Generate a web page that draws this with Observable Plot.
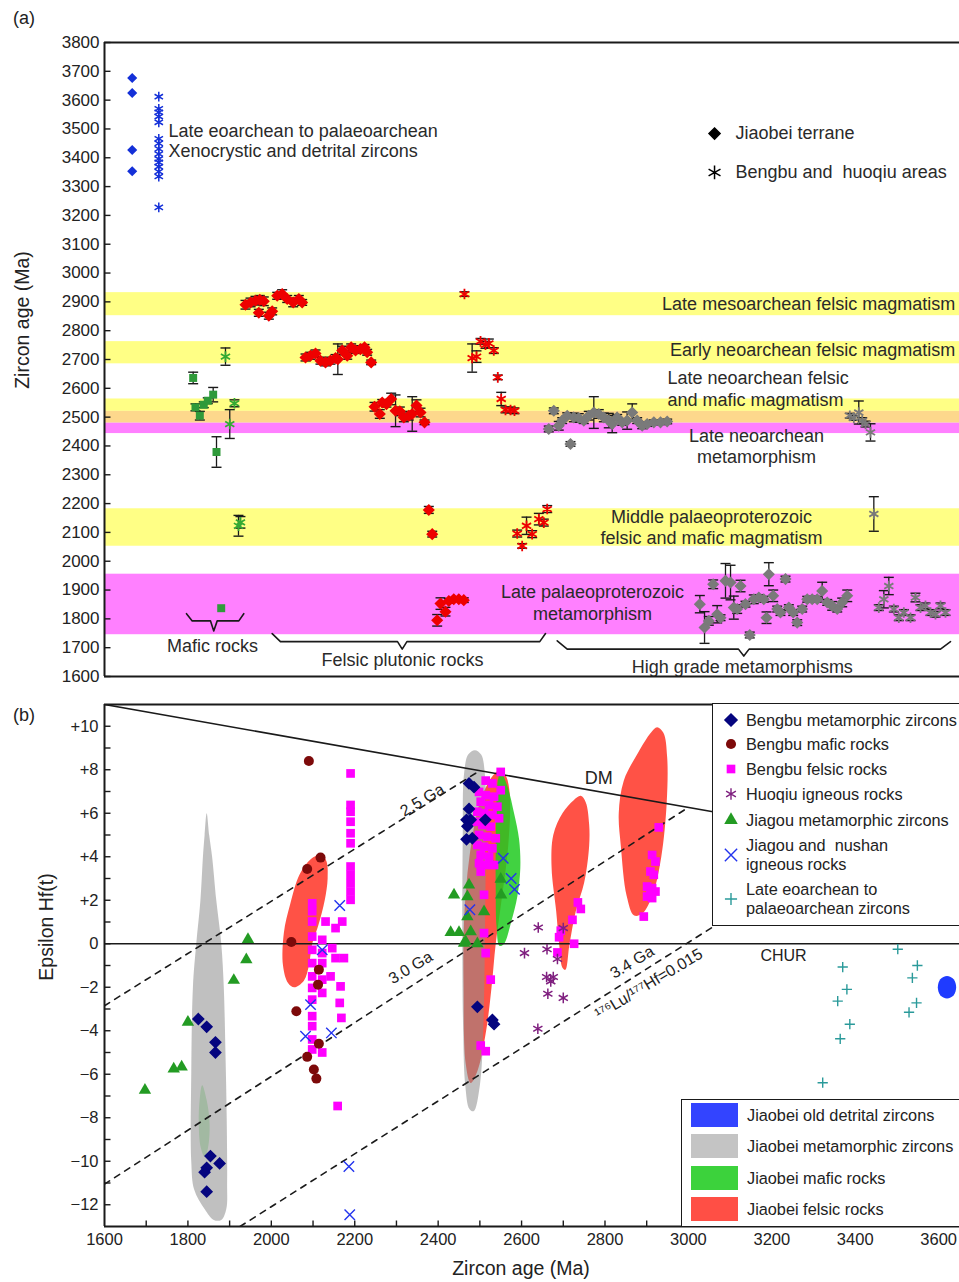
<!DOCTYPE html>
<html><head><meta charset="utf-8">
<script src="https://cdn.jsdelivr.net/npm/d3@7"></script>
<script src="https://cdn.jsdelivr.net/npm/@observablehq/plot@0.6"></script>
<style>
body{margin:0;background:#fff;}
#wrap{position:relative;width:959px;height:1282px;overflow:hidden;font-family:"Liberation Sans",Arial,sans-serif;color:#222;background:#fff;}
.abs{position:absolute;white-space:pre;line-height:1.15;}
svg{position:absolute;left:0;}
</style></head><body><div id="wrap"></div>
<script>
// ---------------- Panel (a) data: [sample position (0-100), age Ma, error Ma] ----------------
const ageTicks = [1600,1700,1800,1900,2000,2100,2200,2300,2400,2500,2600,2700,2800,2900,3000,3100,3200,3300,3400,3500,3600,3700,3800];
const xenoJiaobei = [[3.24,3677],[3.24,3625],[3.24,3427],[3.24,3353]];
const xenoBengbu = [[6.35,3612],[6.35,3570],[6.35,3558],[6.35,3543],[6.35,3523],[6.35,3466],[6.35,3450],[6.35,3431],[6.35,3413],[6.35,3396],[6.35,3384],[6.35,3369],[6.35,3352],[6.35,3335],[6.35,3228]];
const maficJiaobei = [[10.37,2636,20],[10.64,2534,12],[11.15,2505,15],[11.61,2543,10],[12.08,2557,10],[12.71,2578,25],[13.1,2379,53],[13.65,1837,0]];
const maficBengbu = [[14.15,2710,30],[14.65,2476,50],[15.2,2548,12],[15.67,2123,36],[15.9,2135,20]];
const felsicJiaobei = [
 [16.49,2890,15],[17.08,2898,15],[17.66,2904,15],[18.16,2907,15],[18.63,2902,15],[18.05,2862,12],[19.22,2852,12],[19.61,2867,12],[20.2,2921,12],[20.78,2927,15],[21.37,2910,12],[22.07,2898,15],[22.73,2910,12],[23.12,2898,10],
 [23.51,2707,12],[24.09,2713,12],[24.68,2721,12],[25.26,2696,12],[25.85,2690,12],[26.43,2696,12],[27.02,2705,12],[27.29,2701,53],[27.8,2731,15],[28.39,2713,12],[28.85,2742,12],[29.36,2731,10],[29.94,2736,12],[30.41,2742,10],[30.72,2725,10],[31.19,2690,8],
 [31.58,2536,15],[32.2,2511,15],[32.48,2551,10],[32.98,2545,10],[33.53,2563,20],[34.04,2522,55],[34.54,2520,15],[35.01,2499,15],[35.59,2505,15],[35.99,2511,60],[36.49,2540,20],[36.96,2516,15],[37.43,2482,8],
 [37.93,2178,12],[38.33,2094,10],
 [38.91,1795,20],[39.3,1853,20],[39.88,1825,15],[40.27,1862,8],[40.85,1868,6],[41.44,1868,6],[42.02,1865,8]];
const felsicBengbu = [[42.1,2927,8],[43.0,2705,49],[43.51,2710,20],[43.98,2763,10],[44.56,2751,12],[44.95,2756,15],[45.53,2731,10],[46.0,2638,8],[46.4,2563,23],[46.9,2525,10],[47.49,2525,10],[47.95,2522,10],
 [48.27,2096,12],[48.85,2053,8],[49.36,2123,30],[50.02,2094,12],[50.8,2146,20],[51.38,2134,12],[51.78,2181,12]];
const metaJiaobei = [
 [51.96,2459,10],[52.55,2522,10],[53.13,2470,15],[53.53,2488,10],[54.12,2505,10],[54.5,2407,8],[54.89,2499,15],[55.47,2497,15],[56.06,2488,10],[56.64,2505,15],[57.23,2516,55],[57.81,2511,15],[58.4,2499,15],[58.98,2488,25],[59.38,2476,30],[59.96,2499,10],[60.55,2482,10],[61.13,2488,30],[61.72,2516,30],[62.3,2488,10],[62.89,2470,10],[63.47,2476,8],[64.25,2482,8],[65.03,2482,8],[65.81,2485,8],
 [69.63,1851,30],[70.18,1770,55],[70.68,1793,15],[71.19,1920,15],[71.66,1816,30],[72.05,1804,10],[72.63,1932,60],[73.22,1926,60],[73.6,1839,40],[74.0,1834,15],[74.39,1914,20],[74.97,1851,10],[75.47,1744,10],[75.94,1868,15],[76.53,1874,10],[77.11,1868,10],[77.43,1804,20],[77.7,1955,40],[78.21,1880,20],[78.68,1834,10],[79.06,1822,10],[79.65,1938,10],[80.04,1839,10],[80.55,1822,10],[81.02,1787,10],[81.6,1834,10],[82.19,1868,10],[82.77,1868,10],[83.36,1868,10],[83.94,1897,30],[84.53,1857,10],[85.11,1845,15],[85.7,1834,10],[86.28,1857,15],[86.87,1880,20]];
const metaBengbu = [[87.17,2505,8],[87.64,2497,8],[88.22,2516,40],[88.62,2488,10],[89.01,2476,10],[89.59,2447,30],[89.98,2164,60],
 [90.56,1839,10],[91.15,1868,30],[91.73,1914,30],[92.32,1834,10],[92.9,1804,10],[93.49,1822,10],[94.27,1804,10],[94.85,1874,15],[95.44,1839,10],[96.02,1845,10],[96.61,1822,10],[97.19,1816,10],[97.78,1845,10],[98.36,1822,10]];
const yellowBands = [[2852,2932],[2685,2762],[2520,2563],[2052,2182]];
const orangeBands = [[2479,2520]];
const magentaBands = [[2443,2479],[1745,1955]];
const braceMafic = [[9.59,1818],[10.26,1793],[12.4,1793],[12.78,1758],[13.18,1793],[15.71,1793],[16.29,1818]];
const braceFelsic = [[19.61,1749],[20.58,1721],[34.27,1721],[34.82,1695],[35.37,1721],[50.91,1721],[51.58,1749]];
const braceHigh = [[52.95,1724],[54.12,1695],[74.15,1695],[74.77,1671],[75.39,1695],[97.78,1695],[98.95,1721]];

// ---------------- Panel (b) data: [age Ma, epsilon Hf(t)] ----------------
const ageTicksB = [1600,1800,2000,2200,2400,2600,2800,3000,3200,3400,3600];
const ageMinorB = [1700,1800,1900,2000,2100,2200,2300,2400,2500,2600,2700,2800,2900,3000,3100,3200,3300,3400,3500,3600];
const epsTicks = [-12,-10,-8,-6,-4,-2,0,2,4,6,8,10];
const epsMinor = [-12,-11,-10,-9,-8,-7,-6,-5,-4,-3,-2,-1,0,1,2,3,4,5,6,7,8,9,10];
const bengbuMeta = [[1825,-3.46],[1845,-3.82],[1866,-4.53],[1866,-5.0],[1854,-9.76],[1876,-10.1],[1845,-10.3],[1840,-10.5],[1845,-11.4],
 [2474,7.37],[2486,7.2],[2474,6.2],[2468,5.7],[2470,5.4],[2468,4.8],[2482,4.85],[2478,5.7],[2513,5.7],[2494,-2.9],[2530,-3.5],[2534,-3.7]];
const bengbuMafic = [[2090,8.4],[2086,3.44],[2118,3.96],[2048,0.08],[2114,-1.19],[2112,-1.88],[2060,-3.1],[2114,-4.6],[2086,-5.2],[2102,-5.78],[2108,-6.2]];
const bengbuFelsic = [
 [2190,7.83],[2190,6.38],[2190,6.07],[2190,5.61],[2190,5.08],[2190,4.62],[2190,3.55],[2190,3.17],[2190,2.78],[2190,2.4],[2190,2.02],
 [2098,1.86],[2098,1.5],[2098,1.02],[2098,0.33],[2098,-0.28],[2098,-0.89],[2098,-1.5],[2098,-2.03],[2098,-2.57],[2098,-3.33],[2098,-3.79],[2098,-4.4],[2098,-4.86],
 [2122,0.18],[2122,-0.43],[2122,-0.89],[2122,-1.65],[2122,-2.26],[2122,-5.0],
 [2130,1.02],[2154,0.72],[2170,1.02],[2146,-0.2],[2154,-0.66],[2174,-0.66],[2142,-1.5],[2166,-1.96],[2164,-2.72],[2168,-3.41],[2159,-7.46],
 [2550,7.9],[2514,7.5],[2530,7.37],[2550,7.06],[2498,6.98],[2514,6.83],[2534,6.76],[2502,6.53],[2522,6.38],[2542,6.3],[2494,6.07],[2510,6.0],[2530,5.92],[2546,5.77],[2490,5.61],[2506,5.46],[2526,5.38],[2498,5.0],[2518,4.92],[2538,4.85],[2494,4.54],[2510,4.46],[2530,4.39],[2502,4.08],[2522,4.0],[2498,3.7],[2514,3.62],[2534,3.62],[2502,3.32],[2510,2.25],[2510,0.49],[2514,-0.43],[2526,-1.65],[2502,-4.68],[2514,-4.94],
 [2686,-0.4],[2690,0.3],[2694,0.6],[2722,1.1],[2742,1.6],[2726,0.0],[2735,1.9],
 [2929,5.35],[2913,4.08],[2921,3.78],[2909,3.32],[2917,3.17],[2901,2.63],[2913,2.56],[2909,2.33],[2921,2.4],[2901,2.17],[2913,2.1],[2893,1.25]];
const huoqiu = [[2640,0.75],[2700,0.72],[2607,-0.43],[2661,-0.25],[2686,-0.7],[2660,-1.53],[2676,-1.53],[2670,-1.73],[2663,-2.3],[2700,-2.49],[2639,-3.91]];
const jiagouMeta = [[1944,0.2],[1940,-0.73],[1910,-1.68],[1800,-3.6],[1766,-5.75],[1785,-5.66],[1697,-6.73],
 [2438,2.25],[2474,2.7],[2470,2.17],[2510,1.48],[2470,1.25],[2526,3.7],[2550,2.97],[2551,2.25],[2430,0.52],[2450,0.52],[2478,0.56],[2462,0.03],[2494,0.0],[2466,0.1]];
const jiagouIgneous = [[2164,1.76],[2122,-0.28],[2094,-2.8],[2082,-4.25],[2144,-4.1],[2186,-10.24],[2188,-12.46],[2476,1.56],[2556,3.93],[2575,3.0],[2583,2.5]];
const lateEoarchean = [[3502,-0.25],[3370,-1.07],[3549,-1.0],[3537,-1.57],[3380,-2.1],[3358,-2.64],[3547,-2.72],[3387,-3.7],[3529,-3.15],[3364,-4.37],[3322,-6.39]];
// field outlines (age, epsilon)
const grayField1 = [[1845,6],[1851,5],[1858,4],[1868,2],[1880,0],[1886,-2],[1890,-5],[1893,-8],[1894,-11],[1892,-12.2],[1880,-12.7],[1862,-12.7],[1840,-12.2],[1815,-11.3],[1808,-10],[1808,-6],[1812,-2],[1820,0],[1830,2],[1836,4],[1840,5]];
const grayField2 = [[2488,8.9],[2503,8.7],[2512,7.8],[2514,5],[2512,0],[2508,-4],[2500,-6.5],[2485,-7.7],[2475,-7.6],[2465,-6.5],[2460,-4],[2458,0],[2459,5],[2462,7.8],[2472,8.7]];
const greenField1 = [[1834,-6.5],[1845,-7.2],[1852,-8.3],[1848,-9.4],[1840,-9.8],[1830,-9.3],[1826,-8.2],[1828,-7.2]];
const greenField2 = [[2550,7.9],[2565,7.3],[2582,6.0],[2594,4.8],[2597,3.5],[2590,2.2],[2575,1.0],[2558,0.0],[2547,-0.1],[2540,0.8],[2538,2.5],[2538,4.5],[2540,6.5],[2544,7.6]];
const redField1 = [[2120,4.1],[2132,3.8],[2135,3.0],[2128,2.0],[2112,0.8],[2098,0],[2090,-1],[2078,-1.7],[2055,-2.0],[2040,-1.8],[2028,-1.0],[2030,0.5],[2045,1.8],[2068,3.2],[2095,3.9]];
const redField2 = [[2550,8.0],[2563,7.7],[2572,6.8],[2568,4.5],[2552,2],[2538,0],[2528,-2],[2515,-4],[2495,-5.8],[2478,-6.4],[2466,-5.5],[2461,-2],[2462,1],[2475,4],[2500,6.5],[2530,7.7]];
const redField3 = [[2742,6.8],[2754,6.5],[2762,5.5],[2762,4.5],[2750,2.8],[2730,1.5],[2715,0],[2705,-1.2],[2698,-1.1],[2690,0],[2683,1.5],[2672,3.5],[2676,5],[2698,6],[2725,6.6]];
const redField4 = [[2925,9.95],[2940,9.7],[2949,8.6],[2948,6.5],[2935,4],[2915,2.3],[2890,1.4],[2870,1.3],[2852,2.2],[2838,4.5],[2833,6],[2845,7.5],[2880,8.8],[2910,9.7]];
const blueField = [[3620,-1.48],[3636,-1.63],[3642,-2.0],[3636,-2.37],[3620,-2.52],[3604,-2.37],[3598,-2.0],[3604,-1.63]];
const dmLine = [[1600,11.0],[3650,4.07]];
const evo25 = [[1600,-2.85],[2500,7.96]];
const evo30 = [[1600,-11.05],[3000,6.27]];
const evo34 = [[1925,-13.0],[3400,4.92]];

// ---------------- helpers ----------------
const FONT = '"Liberation Sans", Arial, Helvetica, sans-serif';
const INK = "#1a1a1a";
const capSym = {draw(c){c.moveTo(-5,0);c.lineTo(5,0);}};
const tickRight = {draw(c){c.moveTo(0,0);c.lineTo(6,0);}};
const tickUp = {draw(c){c.moveTo(0,0);c.lineTo(0,-6);}};
const X = d => d[0], Y = d => d[1];
function errBars(data){
  const e = data.filter(d => d[2] > 0);
  return [
    Plot.ruleX(e,{x:X,y1:d=>d[1]-d[2],y2:d=>d[1]+d[2],stroke:INK,strokeWidth:1.3}),
    Plot.dot(e,{x:X,y:d=>d[1]-d[2],symbol:capSym,stroke:INK,fill:"none",strokeWidth:1.4}),
    Plot.dot(e,{x:X,y:d=>d[1]+d[2],symbol:capSym,stroke:INK,fill:"none",strokeWidth:1.4})
  ];
}
function field(pts, fill, opacity){
  return Plot.line(pts,{x:X,y:Y,curve:"catmull-rom-closed",fill,fillOpacity:opacity,stroke:"none"});
}
const fmtEps = d => d > 0 ? "+" + d : d < 0 ? "\u2212" + Math.abs(d) : "0";

const wrap = d3.select("#wrap");
function htmlText(txt, x, y, size, anchor="middle", rotate=0){
  const tx = anchor === "middle" ? "-50%" : anchor === "end" ? "-100%" : "0";
  return wrap.append("div").attr("class","abs").text(txt)
    .style("left", x + "px").style("top", y + "px").style("font-size", size + "px")
    .style("transform", `translate(${tx},-50%) rotate(${rotate}deg)`);
}

// ---------------- Panel (a) ----------------
const plotA = Plot.plot({
  width: 959, height: 690, marginLeft: 104, marginRight: 0, marginTop: 42, marginBottom: 14,
  style: {fontFamily: FONT, fontSize: "17px", color: "#222", background: "transparent", overflow: "visible"},
  x: {domain: [0, 100], axis: null},
  y: {domain: [1600, 3800], ticks: ageTicks, tickSize: 0, tickPadding: 5, tickFormat: d => String(d), label: null},
  marks: [
    Plot.rect(yellowBands, {x1: 0, x2: 100, y1: d => d[0], y2: d => d[1], fill: "#ffff85"}),
    Plot.rect(orangeBands, {x1: 0, x2: 100, y1: d => d[0], y2: d => d[1], fill: "#fdd88c"}),
    Plot.rect(magentaBands, {x1: 0, x2: 100, y1: d => d[0], y2: d => d[1], fill: "#ff80ff"}),
    Plot.text(["Late mesoarchean felsic magmatism"], {x: 99.5, y: 2892, text: d => d, textAnchor: "end", fontSize: 18, fill: "#2a2a2a"}),
    Plot.text(["Early neoarchean felsic magmatism"], {x: 99.5, y: 2731, text: d => d, textAnchor: "end", fontSize: 18, fill: "#2a2a2a"}),
    Plot.text(["Late neoarchean felsic\nand mafic magmatism"], {x: 65.85, y: 2600, text: d => d, textAnchor: "start", fontSize: 18, lineHeight: 1.22, fill: "#2a2a2a"}),
    Plot.text(["Late neoarchean\nmetamorphism"], {x: 76.26, y: 2402, text: d => d, fontSize: 18, lineHeight: 1.17, fill: "#2a2a2a"}),
    Plot.text(["Middle palaeoproterozoic\nfelsic and mafic magmatism"], {x: 71.0, y: 2119, text: d => d, fontSize: 18, lineHeight: 1.17, fill: "#2a2a2a"}),
    Plot.text(["Late palaeoproterozoic\nmetamorphism"], {x: 57.08, y: 1859, text: d => d, fontSize: 18, lineHeight: 1.22, fill: "#2a2a2a"}),
    Plot.text(["Late eoarchean to palaeoarchean\nXenocrystic and detrital zircons"], {x: 7.49, y: 3461, text: d => d, textAnchor: "start", fontSize: 18, lineHeight: 1.14, fill: "#2a2a2a"}),
    Plot.line(braceMafic, {x: X, y: Y, stroke: INK, strokeWidth: 1.6}),
    Plot.line(braceFelsic, {x: X, y: Y, stroke: INK, strokeWidth: 1.6}),
    Plot.line(braceHigh, {x: X, y: Y, stroke: INK, strokeWidth: 1.6}),
    Plot.text(["Mafic rocks"], {x: 12.63, y: 1706, text: d => d, fontSize: 18, fill: "#2a2a2a"}),
    Plot.text(["Felsic plutonic rocks"], {x: 34.85, y: 1658, text: d => d, fontSize: 18, fill: "#2a2a2a"}),
    Plot.text(["High grade metamorphisms"], {x: 74.6, y: 1633, text: d => d, fontSize: 18, fill: "#2a2a2a"}),
    // legend
    Plot.dot([[71.35, 3484]], {x: X, y: Y, symbol: "diamond2", r: 5, fill: "#000", stroke: "#000"}),
    Plot.dot([[71.35, 3349]], {x: X, y: Y, symbol: "asterisk", r: 6.5, stroke: "#000", strokeWidth: 1.5}),
    Plot.text(["Jiaobei terrane"], {x: 73.8, y: 3484, text: d => d, textAnchor: "start", fontSize: 18, fill: "#2a2a2a"}),
    Plot.text(["Bengbu and  huoqiu areas"], {x: 73.8, y: 3349, text: d => d, textAnchor: "start", fontSize: 18, fill: "#2a2a2a"}),
    // frame
    Plot.ruleY([1600, 3800], {stroke: INK, strokeWidth: 2}),
    Plot.ruleX([0], {stroke: INK, strokeWidth: 2}),
    Plot.dot(ageTicks, {y: d => d, frameAnchor: "left", symbol: tickRight, stroke: INK, fill: "none", strokeWidth: 1.4}),
    // data
    ...errBars(maficJiaobei), ...errBars(maficBengbu), ...errBars(felsicJiaobei), ...errBars(felsicBengbu), ...errBars(metaJiaobei), ...errBars(metaBengbu),
    Plot.dot(xenoJiaobei, {x: X, y: Y, symbol: "diamond2", r: 3.6, fill: "#1430d8", stroke: "#1430d8"}),
    Plot.dot(xenoBengbu, {x: X, y: Y, symbol: "asterisk", r: 4.6, stroke: "#1430d8", strokeWidth: 1.5}),
    Plot.dot(maficJiaobei, {x: X, y: Y, symbol: "square", r: 4.5, fill: "#2f9a3a"}),
    Plot.dot(maficBengbu, {x: X, y: Y, symbol: "asterisk", r: 5, stroke: "#33aa33", strokeWidth: 1.7}),
    Plot.dot(felsicJiaobei, {x: X, y: Y, symbol: "diamond2", r: 4.5, fill: "#ee0000", stroke: "#ee0000"}),
    Plot.dot(felsicBengbu, {x: X, y: Y, symbol: "asterisk", r: 5, stroke: "#ee0000", strokeWidth: 1.8}),
    Plot.dot(metaJiaobei, {x: X, y: Y, symbol: "diamond2", r: 4.5, fill: "#7a7a7a", stroke: "#7a7a7a"}),
    Plot.dot(metaBengbu, {x: X, y: Y, symbol: "asterisk", r: 5, stroke: "#7a7a7a", strokeWidth: 1.8})
  ]
});
plotA.style.top = "0px";
wrap.node().appendChild(plotA);

// ---------------- Panel (b) ----------------
const plotB = Plot.plot({
  width: 959, height: 592, marginLeft: 104, marginRight: 0, marginTop: 14, marginBottom: 56,
  style: {fontFamily: FONT, fontSize: "16.5px", color: "#222", background: "transparent", overflow: "visible"},
  x: {domain: [1600, 3650], ticks: ageTicksB, tickSize: 0, tickPadding: 7, tickFormat: d => String(d), label: null},
  y: {domain: [-13, 11], ticks: epsTicks, tickSize: 0, tickPadding: 6, tickFormat: fmtEps, label: null},
  marks: [
    field(redField1, "#ff5246", 1), field(redField2, "#ff5246", 1), field(redField3, "#ff5246", 1), field(redField4, "#ff5246", 1),
    field(greenField1, "#20ca20", 0.3),
    field(grayField1, "#8c8c8c", 0.55), field(grayField2, "#8c8c8c", 0.55),
    field(greenField2, "#20ca20", 0.85),
    field(blueField, "#1f3bff", 1),
    Plot.ruleY([0], {stroke: INK, strokeWidth: 1.6}),
    Plot.line(dmLine, {x: X, y: Y, stroke: INK, strokeWidth: 1.6, clip: true}),
    Plot.line(evo25, {x: X, y: Y, stroke: INK, strokeWidth: 1.6, strokeDasharray: "6,6", clip: true}),
    Plot.line(evo30, {x: X, y: Y, stroke: INK, strokeWidth: 1.6, strokeDasharray: "6,6", clip: true}),
    Plot.line(evo34, {x: X, y: Y, stroke: INK, strokeWidth: 1.6, strokeDasharray: "6,6", clip: true}),
    Plot.ruleY([11, -13], {stroke: INK, strokeWidth: 2}),
    Plot.ruleX([1600], {stroke: INK, strokeWidth: 2}),
    Plot.dot(epsMinor, {y: d => d, frameAnchor: "left", symbol: tickRight, stroke: INK, fill: "none", strokeWidth: 1.4}),
    Plot.dot(ageMinorB, {x: d => d, frameAnchor: "bottom", symbol: tickUp, stroke: INK, fill: "none", strokeWidth: 1.4}),
    Plot.dot(jiagouMeta, {x: X, y: Y, symbol: "triangle", r: 4.6, fill: "#239b23"}),
    Plot.dot(bengbuFelsic, {x: X, y: Y, symbol: "square", r: 4.9, fill: "#ff00ff"}),
    Plot.dot(bengbuMafic, {x: X, y: Y, symbol: "circle", r: 5, fill: "#7d0a0a"}),
    Plot.dot(bengbuMeta, {x: X, y: Y, symbol: "diamond2", r: 4.8, fill: "#05057f", stroke: "#05057f"}),
    Plot.dot(huoqiu, {x: X, y: Y, symbol: "asterisk", r: 5, stroke: "#7f1f7f", strokeWidth: 1.5}),
    Plot.dot(jiagouIgneous, {x: X, y: Y, symbol: "times", r: 4.8, stroke: "#2233ee", strokeWidth: 1.4}),
    Plot.dot(lateEoarchean, {x: X, y: Y, symbol: "plus", r: 3.4, stroke: "#2a9a9a", strokeWidth: 1.4}),
    Plot.text(["DM"], {x: 2785, y: 7.6, text: d => d, fontSize: 18, fill: "#222"}),
    Plot.text(["CHUR"], {x: 3228, y: -0.55, text: d => d, fontSize: 16, fill: "#222"}),
    Plot.text(["2.5 Ga"], {x: 2362, y: 6.6, text: d => d, rotate: -31, fontSize: 16, fill: "#222"}),
    Plot.text(["3.0 Ga"], {x: 2334, y: -1.1, text: d => d, rotate: -31, fontSize: 16, fill: "#222"}),
    Plot.text(["3.4 Ga"], {x: 2865, y: -0.85, text: d => d, rotate: -31, fontSize: 16, fill: "#222"}),
    Plot.text(["\u00b9\u2077\u2076Lu/\u00b9\u2077\u2077Hf=0.015"], {x: 2905, y: -1.85, text: d => d, rotate: -31, fontSize: 16, fill: "#222"})
  ]
});
plotB.style.top = "690px";
wrap.node().appendChild(plotB);

// ---------------- HTML labels ----------------
htmlText("(a)", 24, 18, 18);
htmlText("(b)", 24, 715, 18);
htmlText("Zircon age (Ma)", 22, 320, 19.5, "middle", -90);
htmlText("Epsilon Hf(t)", 46, 927, 19.5, "middle", -90);
htmlText("Zircon age (Ma)", 521, 1268, 19.5);

// legend (b) top: point symbols
const legendPoints = [
  {text: "Bengbu metamorphic zircons", sym: d3.symbolDiamond2, size: 95, fill: "#05057f", stroke: "#05057f"},
  {text: "Bengbu mafic rocks", sym: d3.symbolCircle, size: 80, fill: "#7d0a0a", stroke: "none"},
  {text: "Bengbu felsic rocks", sym: d3.symbolSquare, size: 75, fill: "#ff00ff", stroke: "none"},
  {text: "Huoqiu igneous rocks", sym: d3.symbolAsterisk, size: 90, fill: "none", stroke: "#7f1f7f"},
  {text: "Jiagou metamorphic zircons", sym: d3.symbolTriangle, size: 80, fill: "#239b23", stroke: "none"},
  {text: "Jiagou and  nushan\nigneous rocks", sym: d3.symbolTimes, size: 100, fill: "none", stroke: "#2233ee"},
  {text: "Late eoarchean to\npalaeoarchean zircons", sym: d3.symbolPlus, size: 50, fill: "none", stroke: "#2a9a9a"}
];
const legendRowsY = [16, 40, 65, 90, 116, 151, 195];
const lg1 = wrap.append("div").style("position", "absolute").style("left", "712px").style("top", "703px")
  .style("width", "260px").style("height", "221px").style("background", "#fff").style("border", "1.6px solid #1a1a1a");
legendPoints.forEach((it, i) => {
  const cy = legendRowsY[i];
  const s = lg1.append("svg").attr("width", 20).attr("height", 20).style("position", "absolute")
    .style("left", (18 - 10) + "px").style("top", (cy - 10) + "px");
  s.append("path").attr("d", d3.symbol(it.sym, it.size)()).attr("transform", "translate(10,10)")
    .attr("fill", it.fill).attr("stroke", it.stroke).attr("stroke-width", 1.4);
  lg1.append("div").attr("class", "abs").text(it.text).style("left", "33px").style("top", cy + "px")
    .style("font-size", "16.3px").style("line-height", "19px").style("transform", "translate(0,-50%)");
});

// legend (b) bottom: fields
const legendFields = [
  {text: "Jiaobei old detrital zircons", color: "#3344ff"},
  {text: "Jiaobei metamorphic zircons", color: "#c4c4c4"},
  {text: "Jiaobei mafic rocks", color: "#3cd23c"},
  {text: "Jiaobei felsic rocks", color: "#ff4f45"}
];
const fieldRowsY = [15, 46, 78, 109];
const lg2 = wrap.append("div").style("position", "absolute").style("left", "681px").style("top", "1099px")
  .style("width", "300px").style("height", "126px").style("background", "#fff").style("border", "1.6px solid #1a1a1a");
legendFields.forEach((it, i) => {
  const cy = fieldRowsY[i];
  lg2.append("div").style("position", "absolute").style("left", "9px").style("top", (cy - 12) + "px")
    .style("width", "47px").style("height", "24px").style("background", it.color);
  lg2.append("div").attr("class", "abs").text(it.text).style("left", "65px").style("top", cy + "px")
    .style("font-size", "16.3px").style("transform", "translate(0,-50%)");
});
</script></body></html>
